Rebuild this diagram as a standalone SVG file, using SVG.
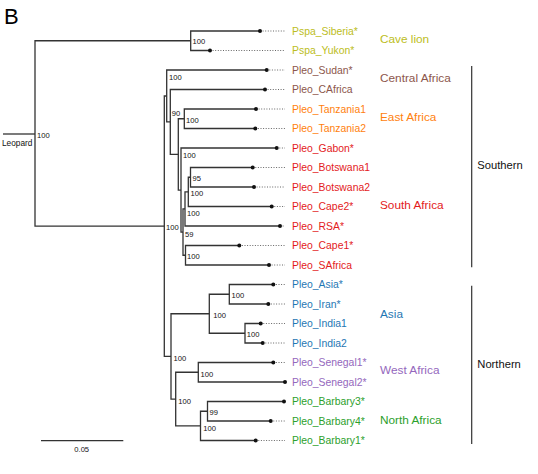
<svg xmlns="http://www.w3.org/2000/svg" width="538" height="474" viewBox="0 0 538 474">
<style>
.br{fill:none;stroke:#333;stroke-width:1.3}
.dot{stroke:#555;stroke-width:0.9;stroke-dasharray:1 1.6;fill:none}
.tip{fill:#111}
.tl{font-family:"Liberation Sans",Arial,sans-serif;font-size:10.4px}
.nl{font-family:"Liberation Sans",Arial,sans-serif;font-size:7.6px;fill:#111}
.lp{font-family:"Liberation Sans",Arial,sans-serif;font-size:8.3px;fill:#111}
.cl{font-family:"Liberation Sans",Arial,sans-serif;font-size:11.8px}
.gl{font-family:"Liberation Sans",Arial,sans-serif;font-size:11.2px;fill:#111}
.bar{stroke:#333;stroke-width:1.2}
.olive{fill:#bcbd22}.brown{fill:#8c564b}.orange{fill:#ff7f0e}.red{fill:#e31a1c}.blue{fill:#1f77b4}.purple{fill:#9467bd}.green{fill:#2ca02c}
</style>
<rect width="538" height="474" fill="#fff"/>
<text x="4" y="24" font-family="Liberation Sans,Arial,sans-serif" font-size="22">B</text>

<g id="connectors">
<path class="br" d="M3,134H35"/>
<path class="br" d="M190.7,40.75H35V226.2H164.3"/>
<path class="br" d="M260,31H190.7V50.5H210"/>
<path class="br" d="M166.7,96H164.3V356.4H171"/>
<path class="br" d="M266.7,70H166.7V121.95H170.3"/>
<path class="br" d="M265,89.5H170.3V154.4H178.3"/>
<path class="br" d="M184.3,118.75H178.3V190.05H181"/>
<path class="br" d="M256,109H184.3V128.5H255.3"/>
<path class="br" d="M276.7,148H181V232.1H183"/>
<path class="br" d="M185,208.9H183V255.25H185.5"/>
<path class="br" d="M188.3,191.9H185V226H280"/>
<path class="br" d="M190.5,177.25H188.3V206.5H271.7"/>
<path class="br" d="M252.7,167.5H190.5V187H254"/>
<path class="br" d="M239.3,245.5H185.5V265H269"/>
<path class="br" d="M209.3,313.75H171V399.1H175.7"/>
<path class="br" d="M229.3,294.25H209.3V333.25H245"/>
<path class="br" d="M273.3,284.5H229.3V304H268.3"/>
<path class="br" d="M260.7,323.5H245V343H262.7"/>
<path class="br" d="M198.3,372.25H175.7V425.9H200.5"/>
<path class="br" d="M273.3,362.5H198.3V382H285"/>
<path class="br" d="M207.5,411.25H200.5V440.5H255.7"/>
<path class="br" d="M284,401.5H207.5V421H270.7"/>
</g>

<g id="leopard"><text class="lp" x="2" y="146">Leopard</text></g>

<g id="tips">
<g id="Pspa_Siberia"><path class="dot" d="M260,31H285"/><circle class="tip" cx="260" cy="31" r="2"/><text class="tl olive" x="292" y="34.7">Pspa_Siberia*</text></g>
<g id="Pspa_Yukon"><path class="dot" d="M210,50.5H285"/><circle class="tip" cx="210" cy="50.5" r="2"/><text class="tl olive" x="292" y="54.2">Pspa_Yukon*</text></g>
<g id="Pleo_Sudan"><path class="dot" d="M266.7,70H285"/><circle class="tip" cx="266.7" cy="70" r="2"/><text class="tl brown" x="292" y="73.7">Pleo_Sudan*</text></g>
<g id="Pleo_CAfrica"><path class="dot" d="M265,89.5H285"/><circle class="tip" cx="265" cy="89.5" r="2"/><text class="tl brown" x="292" y="93.2">Pleo_CAfrica</text></g>
<g id="Pleo_Tanzania1"><path class="dot" d="M256,109H285"/><circle class="tip" cx="256" cy="109" r="2"/><text class="tl orange" x="292" y="112.7">Pleo_Tanzania1</text></g>
<g id="Pleo_Tanzania2"><path class="dot" d="M255.3,128.5H285"/><circle class="tip" cx="255.3" cy="128.5" r="2"/><text class="tl orange" x="292" y="132.2">Pleo_Tanzania2</text></g>
<g id="Pleo_Gabon"><path class="dot" d="M276.7,148H285"/><circle class="tip" cx="276.7" cy="148" r="2"/><text class="tl red" x="292" y="151.7">Pleo_Gabon*</text></g>
<g id="Pleo_Botswana1"><path class="dot" d="M252.7,167.5H285"/><circle class="tip" cx="252.7" cy="167.5" r="2"/><text class="tl red" x="292" y="171.2">Pleo_Botswana1</text></g>
<g id="Pleo_Botswana2"><path class="dot" d="M254,187H285"/><circle class="tip" cx="254" cy="187" r="2"/><text class="tl red" x="292" y="190.7">Pleo_Botswana2</text></g>
<g id="Pleo_Cape2"><path class="dot" d="M271.7,206.5H285"/><circle class="tip" cx="271.7" cy="206.5" r="2"/><text class="tl red" x="292" y="210.2">Pleo_Cape2*</text></g>
<g id="Pleo_RSA"><path class="dot" d="M280,226H285"/><circle class="tip" cx="280" cy="226" r="2"/><text class="tl red" x="292" y="229.7">Pleo_RSA*</text></g>
<g id="Pleo_Cape1"><path class="dot" d="M239.3,245.5H285"/><circle class="tip" cx="239.3" cy="245.5" r="2"/><text class="tl red" x="292" y="249.2">Pleo_Cape1*</text></g>
<g id="Pleo_SAfrica"><path class="dot" d="M269,265H285"/><circle class="tip" cx="269" cy="265" r="2"/><text class="tl red" x="292" y="268.7">Pleo_SAfrica</text></g>
<g id="Pleo_Asia"><path class="dot" d="M273.3,284.5H285"/><circle class="tip" cx="273.3" cy="284.5" r="2"/><text class="tl blue" x="292" y="288.2">Pleo_Asia*</text></g>
<g id="Pleo_Iran"><path class="dot" d="M268.3,304H285"/><circle class="tip" cx="268.3" cy="304" r="2"/><text class="tl blue" x="292" y="307.7">Pleo_Iran*</text></g>
<g id="Pleo_India1"><path class="dot" d="M260.7,323.5H285"/><circle class="tip" cx="260.7" cy="323.5" r="2"/><text class="tl blue" x="292" y="327.2">Pleo_India1</text></g>
<g id="Pleo_India2"><path class="dot" d="M262.7,343H285"/><circle class="tip" cx="262.7" cy="343" r="2"/><text class="tl blue" x="292" y="346.7">Pleo_India2</text></g>
<g id="Pleo_Senegal1"><path class="dot" d="M273.3,362.5H285"/><circle class="tip" cx="273.3" cy="362.5" r="2"/><text class="tl purple" x="292" y="366.2">Pleo_Senegal1*</text></g>
<g id="Pleo_Senegal2"><circle class="tip" cx="285" cy="382" r="2"/><text class="tl purple" x="292" y="385.7">Pleo_Senegal2*</text></g>
<g id="Pleo_Barbary3"><circle class="tip" cx="284" cy="401.5" r="2"/><text class="tl green" x="292" y="405.2">Pleo_Barbary3*</text></g>
<g id="Pleo_Barbary4"><path class="dot" d="M270.7,421H285"/><circle class="tip" cx="270.7" cy="421" r="2"/><text class="tl green" x="292" y="424.7">Pleo_Barbary4*</text></g>
<g id="Pleo_Barbary1"><path class="dot" d="M255.7,440.5H285"/><circle class="tip" cx="255.7" cy="440.5" r="2"/><text class="tl green" x="292" y="444.2">Pleo_Barbary1*</text></g>
</g>

<g id="support">
<text class="nl" x="37" y="137.7">100</text>
<text class="nl" x="192.5" y="44.4">100</text>
<text class="nl" x="169" y="79.7">100</text>
<text class="nl" x="171.7" y="115.7">90</text>
<text class="nl" x="186" y="122.7">100</text>
<text class="nl" x="183" y="157.7">100</text>
<text class="nl" x="192.5" y="180.7">95</text>
<text class="nl" x="190.5" y="195.7">100</text>
<text class="nl" x="187" y="215.7">100</text>
<text class="nl" x="185" y="236.7">59</text>
<text class="nl" x="187" y="259.4">100</text>
<text class="nl" x="166" y="229.7">100</text>
<text class="nl" x="231.5" y="297.7">100</text>
<text class="nl" x="213.3" y="317.7">100</text>
<text class="nl" x="246.7" y="337">100</text>
<text class="nl" x="173.5" y="361">100</text>
<text class="nl" x="200.5" y="377">100</text>
<text class="nl" x="178.3" y="403.7">100</text>
<text class="nl" x="209.5" y="415.4">99</text>
<text class="nl" x="203.3" y="431">100</text>
</g>

<g id="clades">
<text class="cl olive" x="380" y="42.5">Cave lion</text>
<text class="cl brown" x="380" y="81.5">Central Africa</text>
<text class="cl orange" x="380" y="121">East Africa</text>
<text class="cl red" x="380" y="208.5">South Africa</text>
<text class="cl blue" x="380" y="317.5">Asia</text>
<text class="cl purple" x="380" y="374">West Africa</text>
<text class="cl green" x="380" y="424">North Africa</text>
</g>

<g id="groups">
<path class="bar" d="M471.7,66V267.3M471.7,285.7V444"/>
<text class="gl" x="477.3" y="169">Southern</text>
<text class="gl" x="477.3" y="367.5">Northern</text>
</g>

<g id="scale">
<path class="bar" d="M41,440.7H123.3"/>
<text class="nl" x="81.7" y="452" text-anchor="middle">0.05</text>
</g>
</svg>
